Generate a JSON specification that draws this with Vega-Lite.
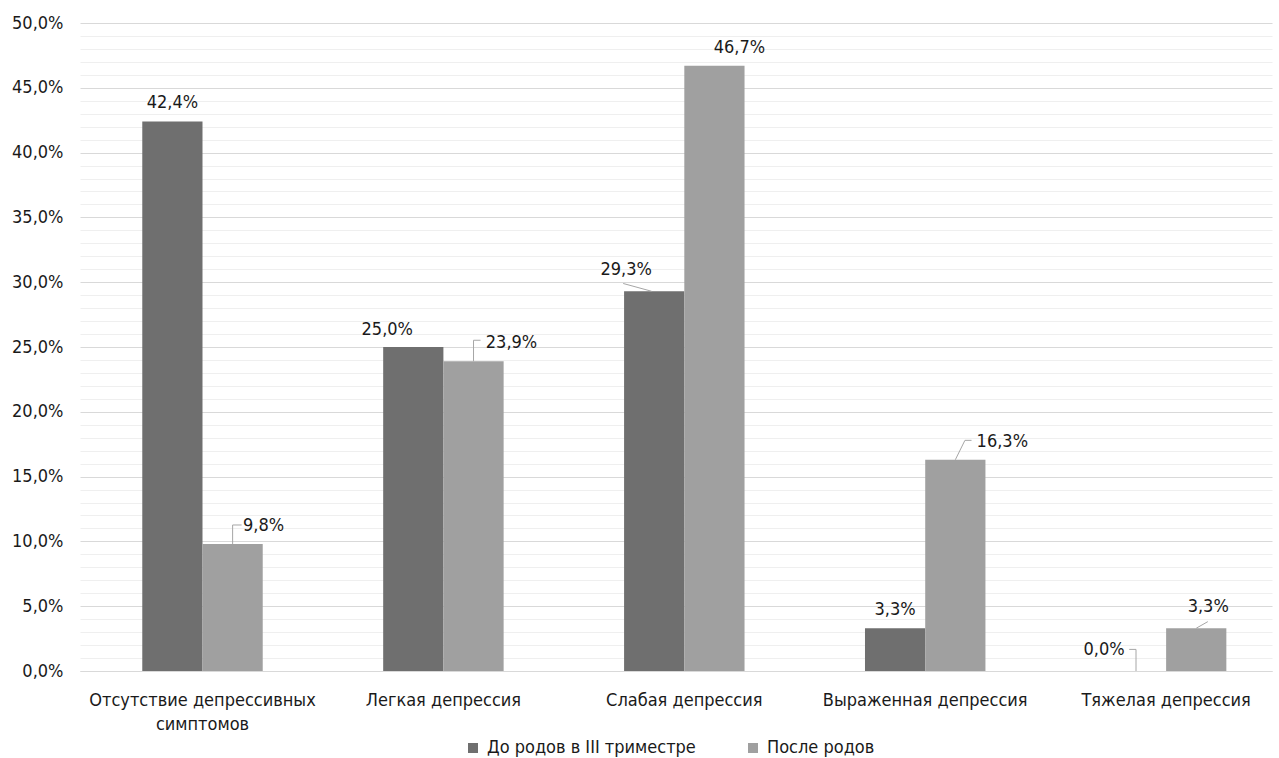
{
  "$schema": "https://vega.github.io/schema/vega-lite/v6.json",
  "width": 1192,
  "height": 648,
  "autosize": "none",
  "padding": {"left": 80, "top": 23, "right": 7, "bottom": 87},
  "config": {
    "locale": {"number": {"decimal": ",", "thousands": " ", "grouping": [3], "currency": ["", ""]}},
    "view": {"stroke": null},
    "font": "DejaVu Sans Condensed",
    "text": {"font": "DejaVu Sans Condensed", "fontSize": 18, "fontWeight": 500, "color": "#1a1a1a", "baseline": "middle", "align": "center"}
  },
  "data": {
    "values": [
      {"category": "Отсутствие депрессивных симптомов", "series": "До родов в III триместре", "value": 0.424},
      {"category": "Отсутствие депрессивных симптомов", "series": "После родов", "value": 0.098},
      {"category": "Легкая депрессия", "series": "До родов в III триместре", "value": 0.25},
      {"category": "Легкая депрессия", "series": "После родов", "value": 0.239},
      {"category": "Слабая депрессия", "series": "До родов в III триместре", "value": 0.293},
      {"category": "Слабая депрессия", "series": "После родов", "value": 0.467},
      {"category": "Выраженная депрессия", "series": "До родов в III триместре", "value": 0.033},
      {"category": "Выраженная депрессия", "series": "После родов", "value": 0.163},
      {"category": "Тяжелая депрессия", "series": "До родов в III триместре", "value": 0.0},
      {"category": "Тяжелая депрессия", "series": "После родов", "value": 0.033}
    ]
  },
  "encoding": {
    "x": {
      "field": "category",
      "type": "nominal",
      "sort": ["Отсутствие депрессивных симптомов", "Легкая депрессия", "Слабая депрессия", "Выраженная депрессия", "Тяжелая депрессия"],
      "title": null,
      "scale": {"paddingInner": 0.5, "paddingOuter": 0.224, "align": 0.577},
      "axis": {
        "labelAngle": 0,
        "ticks": false,
        "domainColor": "#d9d9d9",
        "domainWidth": 1,
        "labelPadding": 20,
        "labelFont": "DejaVu Sans Condensed",
        "labelFontSize": 18,
        "labelColor": "#1a1a1a",
        "labelLimit": 0,
        "labelLineHeight": 24,
        "labelExpr": "datum.label === 'Отсутствие депрессивных симптомов' ? ['Отсутствие депрессивных', 'симптомов'] : datum.label"
      }
    },
    "xOffset": {"field": "series", "sort": ["До родов в III триместре", "После родов"]},
    "y": {
      "field": "value",
      "type": "quantitative",
      "scale": {"domain": [0, 0.5], "nice": false},
      "title": null,
      "axis": {
        "values": [0, 0.01, 0.02, 0.03, 0.04, 0.05, 0.06, 0.07, 0.08, 0.09, 0.1, 0.11, 0.12, 0.13, 0.14, 0.15, 0.16, 0.17, 0.18, 0.19, 0.2, 0.21, 0.22, 0.23, 0.24, 0.25, 0.26, 0.27, 0.28, 0.29, 0.3, 0.31, 0.32, 0.33, 0.34, 0.35, 0.36, 0.37, 0.38, 0.39, 0.4, 0.41, 0.42, 0.43, 0.44, 0.45, 0.46, 0.47, 0.48, 0.49, 0.5],
        "format": ".1%",
        "labelExpr": "round(datum.value * 100) % 5 === 0 ? datum.label : ''",
        "gridColor": {"condition": {"test": "round(datum.value * 100) % 5 === 0", "value": "#d9d9d9"}, "value": "#efefef"},
        "gridWidth": 1,
        "domain": false,
        "ticks": false,
        "labelOverlap": false,
        "labelFlush": false,
        "labelPadding": 17,
        "labelFont": "DejaVu Sans Condensed",
        "labelFontSize": 18,
        "labelColor": "#1a1a1a"
      }
    }
  },
  "layer": [
    {
      "mark": {"type": "bar"},
      "encoding": {
        "color": {
          "field": "series",
          "type": "nominal",
          "scale": {"domain": ["До родов в III триместре", "После родов"], "range": ["#6f6f6f", "#a0a0a0"]},
          "legend": {
            "title": null,
            "orient": "none",
            "legendX": 384,
            "legendY": 716,
            "direction": "horizontal",
            "symbolType": "square",
            "symbolSize": 100,
            "symbolStrokeWidth": 0,
            "columnPadding": 48,
            "labelOffset": 5,
            "labelFont": "DejaVu Sans Condensed",
            "labelFontSize": 18,
            "labelColor": "#1a1a1a",
            "labelLimit": 0
          }
        }
      }
    },
    {
      "transform": [{"filter": "datum.category === 'Отсутствие депрессивных симптомов' && datum.series === 'До родов в III триместре'"}],
      "mark": {"type": "text", "dx": 0, "dy": -18},
      "encoding": {"text": {"field": "value", "type": "quantitative", "format": ".1%"}}
    },
    {
      "transform": [{"filter": "datum.category === 'Отсутствие депрессивных симптомов' && datum.series === 'После родов'"}],
      "mark": {"type": "text", "dx": 31, "dy": -18},
      "encoding": {"text": {"field": "value", "type": "quantitative", "format": ".1%"}}
    },
    {
      "transform": [{"filter": "datum.category === 'Легкая депрессия' && datum.series === 'До родов в III триместре'"}],
      "mark": {"type": "text", "dx": -26, "dy": -17},
      "encoding": {"text": {"field": "value", "type": "quantitative", "format": ".1%"}}
    },
    {
      "transform": [{"filter": "datum.category === 'Легкая депрессия' && datum.series === 'После родов'"}],
      "mark": {"type": "text", "dx": 38, "dy": -18},
      "encoding": {"text": {"field": "value", "type": "quantitative", "format": ".1%"}}
    },
    {
      "transform": [{"filter": "datum.category === 'Слабая депрессия' && datum.series === 'До родов в III триместре'"}],
      "mark": {"type": "text", "dx": -28, "dy": -21},
      "encoding": {"text": {"field": "value", "type": "quantitative", "format": ".1%"}}
    },
    {
      "transform": [{"filter": "datum.category === 'Слабая депрессия' && datum.series === 'После родов'"}],
      "mark": {"type": "text", "dx": 25, "dy": -18},
      "encoding": {"text": {"field": "value", "type": "quantitative", "format": ".1%"}}
    },
    {
      "transform": [{"filter": "datum.category === 'Выраженная депрессия' && datum.series === 'До родов в III триместре'"}],
      "mark": {"type": "text", "dx": 0, "dy": -18},
      "encoding": {"text": {"field": "value", "type": "quantitative", "format": ".1%"}}
    },
    {
      "transform": [{"filter": "datum.category === 'Выраженная депрессия' && datum.series === 'После родов'"}],
      "mark": {"type": "text", "dx": 47, "dy": -18},
      "encoding": {"text": {"field": "value", "type": "quantitative", "format": ".1%"}}
    },
    {
      "transform": [{"filter": "datum.category === 'Тяжелая депрессия' && datum.series === 'До родов в III триместре'"}],
      "mark": {"type": "text", "dx": -32, "dy": -21},
      "encoding": {"text": {"field": "value", "type": "quantitative", "format": ".1%"}}
    },
    {
      "transform": [{"filter": "datum.category === 'Тяжелая депрессия' && datum.series === 'После родов'"}],
      "mark": {"type": "text", "dx": 12, "dy": -21},
      "encoding": {"text": {"field": "value", "type": "quantitative", "format": ".1%"}}
    },
    {
      "transform": [{"filter": "datum.category === 'Отсутствие депрессивных симптомов' && datum.series === 'После родов'"}],
      "mark": {"type": "point", "shape": "M0,0L0,-0.95L0.45,-0.95", "size": 1600, "filled": false, "stroke": "#a6a6a6", "strokeWidth": 1, "opacity": 1},
      "encoding": {}
    },
    {
      "transform": [{"filter": "datum.category === 'Легкая депрессия' && datum.series === 'После родов'"}],
      "mark": {"type": "point", "shape": "M0,0L0,-1.05L0.35,-1.05", "size": 1600, "filled": false, "stroke": "#a6a6a6", "strokeWidth": 1, "opacity": 1},
      "encoding": {}
    },
    {
      "transform": [{"filter": "datum.category === 'Слабая депрессия' && datum.series === 'До родов в III триместре'"}],
      "mark": {"type": "point", "shape": "M-0.13,0L-1.55,-0.39", "size": 1600, "filled": false, "stroke": "#a6a6a6", "strokeWidth": 1, "opacity": 1},
      "encoding": {}
    },
    {
      "transform": [{"filter": "datum.category === 'Выраженная депрессия' && datum.series === 'После родов'"}],
      "mark": {"type": "point", "shape": "M0,0L0.48,-0.97L0.81,-0.97", "size": 1600, "filled": false, "stroke": "#a6a6a6", "strokeWidth": 1, "opacity": 1},
      "encoding": {}
    },
    {
      "transform": [{"filter": "datum.category === 'Тяжелая депрессия' && datum.series === 'До родов в III триместре'"}],
      "mark": {"type": "point", "shape": "M0,0L0,-1.08L-0.34,-1.08", "size": 1600, "filled": false, "stroke": "#a6a6a6", "strokeWidth": 1, "opacity": 1},
      "encoding": {}
    },
    {
      "transform": [{"filter": "datum.category === 'Тяжелая депрессия' && datum.series === 'После родов'"}],
      "mark": {"type": "point", "shape": "M0,0L0.58,-0.33", "size": 1600, "filled": false, "stroke": "#a6a6a6", "strokeWidth": 1, "opacity": 1},
      "encoding": {}
    }
  ]
}
